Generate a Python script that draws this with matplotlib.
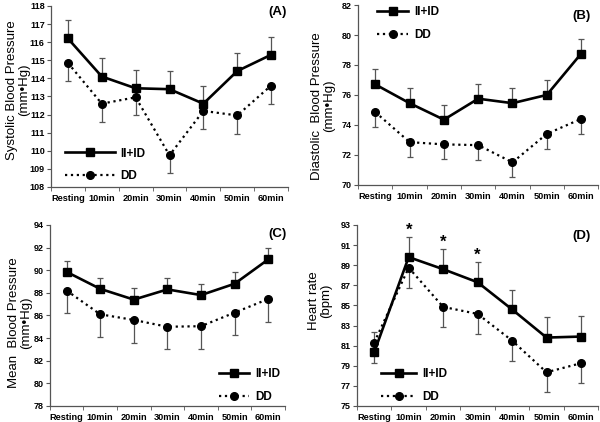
import numpy as np
import matplotlib.pyplot as plt
from matplotlib.lines import Line2D

times = ["Resting", "10min", "20min", "30min", "40min", "50min", "60min"]

sbp_ii = [116.2, 114.1, 113.45, 113.4, 112.6, 114.4, 115.3]
sbp_dd = [114.85, 112.6, 112.95, 109.75, 112.2, 111.95, 113.6]
sbp_err_ii = [1.0, 1.0, 1.0, 1.0, 1.0, 1.0, 1.0]
sbp_err_dd = [1.0, 1.0, 1.0, 1.0, 1.0, 1.0, 1.0]

dbp_ii = [76.7, 75.45, 74.35, 75.75, 75.45, 76.0, 78.75]
dbp_dd = [74.85, 72.85, 72.7, 72.65, 71.5, 73.4, 74.4]
dbp_err_ii = [1.0, 1.0, 1.0, 1.0, 1.0, 1.0, 1.0]
dbp_err_dd = [1.0, 1.0, 1.0, 1.0, 1.0, 1.0, 1.0]

mbp_ii = [89.85, 88.35, 87.4, 88.3, 87.8, 88.8, 90.95]
mbp_dd = [88.2, 86.1, 85.6, 85.0, 85.05, 86.25, 87.45]
mbp_err_ii = [1.0, 1.0, 1.0, 1.0, 1.0, 1.0, 1.0]
mbp_err_dd = [2.0, 2.0, 2.0, 2.0, 2.0, 2.0, 2.0]

hr_ii = [80.35, 89.8, 88.6, 87.3, 84.6, 81.8, 81.9]
hr_dd = [81.3, 88.75, 84.85, 84.15, 81.5, 78.35, 79.25]
hr_err_ii = [1.05, 2.0, 2.0, 2.0, 1.9, 2.0, 2.05]
hr_err_dd = [1.1, 2.0, 2.0, 2.0, 2.0, 1.95, 2.0]
# +1 = bar goes up, -1 = bar goes down
hr_side_ii = [-1, 1, 1, 1, 1, 1, 1]
hr_side_dd = [1, -1, -1, -1, -1, -1, -1]
hr_sig = [1, 2, 3]  # indices with asterisk

plt.rcParams["font.family"] = ["Liberation Sans", "DejaVu Sans"]

fig = plt.figure(figsize=(6.0, 4.22), dpi=100)
W, H = 600, 422

panels = [
    dict(rect=[0.085, 0.557, 0.395, 0.429], ii=sbp_ii, dd=sbp_dd, eii=sbp_err_ii, edd=sbp_err_dd,
         sii=[1] * 7, sdd=[-1] * 7, ylim=(108, 118), step=1,
         ylabel="Systolic Blood Pressure\n(mm\u2022Hg)", labxy=(18, 90), tag="(A)", tagpos=(0.955, 0.965),
         leg=dict(loc="lower left", bbox_to_anchor=(0.04, 0.0), handlelength=4.2)),
    dict(rect=[0.597, 0.562, 0.400, 0.426], ii=dbp_ii, dd=dbp_dd, eii=dbp_err_ii, edd=dbp_err_dd,
         sii=[1] * 7, sdd=[-1] * 7, ylim=(70, 82), step=2,
         ylabel="Diastolic  Blood Pressure\n(mm\u2022Hg)", labxy=(323, 106), tag="(B)", tagpos=(0.93, 0.94),
         leg=dict(loc="upper left", bbox_to_anchor=(0.06, 1.02), handlelength=2.6)),
    dict(rect=[0.083, 0.038, 0.392, 0.429], ii=mbp_ii, dd=mbp_dd, eii=mbp_err_ii, edd=mbp_err_dd,
         sii=[1] * 7, sdd=[-1] * 7, ylim=(78, 94), step=2,
         ylabel="Mean  Blood Pressure\n(mm\u2022Hg)", labxy=(20, 323), tag="(C)", tagpos=(0.97, 0.95),
         leg=dict(loc="lower right", bbox_to_anchor=(1.0, -0.01), handlelength=2.6)),
    dict(rect=[0.595, 0.038, 0.402, 0.429], ii=hr_ii, dd=hr_dd, eii=hr_err_ii, edd=hr_err_dd,
         sii=hr_side_ii, sdd=hr_side_dd, ylim=(75, 93), step=2,
         ylabel="Heart rate\n(bpm)", labxy=(320, 301), tag="(D)", tagpos=(0.93, 0.94),
         leg=dict(loc="lower left", bbox_to_anchor=(0.08, -0.01), handlelength=3.0)),
]

x = np.arange(len(times))

for i, p in enumerate(panels):
    ax = fig.add_axes(p["rect"])
    for vals, errs, side, ls, mk, ms, lw in [
        (p["dd"], p["edd"], p["sdd"], ":", "o", 5.5, 1.6),
        (p["ii"], p["eii"], p["sii"], "-", "s", 6, 1.9),
    ]:
        lo = [e if s < 0 else 0 for e, s in zip(errs, side)]
        hi = [e if s > 0 else 0 for e, s in zip(errs, side)]
        ax.errorbar(x, vals, yerr=[lo, hi], fmt="none", ecolor="#555555",
                    elinewidth=0.9, capsize=2.5, capthick=0.9, zorder=2)
        ax.plot(x, vals, color="black", linestyle=ls, linewidth=lw,
                marker=mk, markersize=ms, zorder=3)
    if i == 3:
        for k in hr_sig:
            top = p["ii"][k] + p["eii"][k]
            ax.text(x[k], top - 0.1, "*", ha="center", va="bottom",
                    fontsize=12, fontweight="bold")

    ax.set_xlim(-0.5, len(times) - 0.5)
    ax.set_ylim(*p["ylim"])
    ax.set_yticks(np.arange(p["ylim"][0], p["ylim"][1] + 0.01, p["step"]))
    ax.set_xticks(x)
    ax.set_xticklabels(times)
    ax.set_xticks(np.arange(-0.5, len(times)), minor=True)
    ax.tick_params(axis="x", which="major", length=0, pad=5, labelsize=6.6)
    ax.tick_params(axis="x", which="minor", length=3, color="#555555")
    ax.tick_params(axis="y", length=3, pad=1.5, labelsize=6.5, color="#555555")
    for lab in ax.get_xticklabels() + ax.get_yticklabels():
        lab.set_fontweight("bold")
    for s in ["top", "right"]:
        ax.spines[s].set_visible(False)
    for s in ["left", "bottom"]:
        ax.spines[s].set_color("#555555")
        ax.spines[s].set_linewidth(0.9)
    fig.text(p["labxy"][0] / W, 1 - p["labxy"][1] / H, p["ylabel"], rotation=90,
             ha="center", va="center", multialignment="center", fontsize=9.5, linespacing=0.95)
    ax.text(p["tagpos"][0], p["tagpos"][1], p["tag"], transform=ax.transAxes,
            ha="center", va="center", fontsize=9.5, fontweight="bold")

    handles = [
        Line2D([], [], color="black", linestyle="-", linewidth=1.9, marker="s", markersize=6),
        Line2D([], [], color="black", linestyle=":", linewidth=1.6, marker="o", markersize=5.5),
    ]
    ax.legend(handles, ["II+ID", "DD"], frameon=False, prop=dict(size=8.5, weight="bold"),
              labelspacing=0.9, handletextpad=0.5, borderaxespad=0, **p["leg"])

fig.savefig("out.png", dpi=100)
